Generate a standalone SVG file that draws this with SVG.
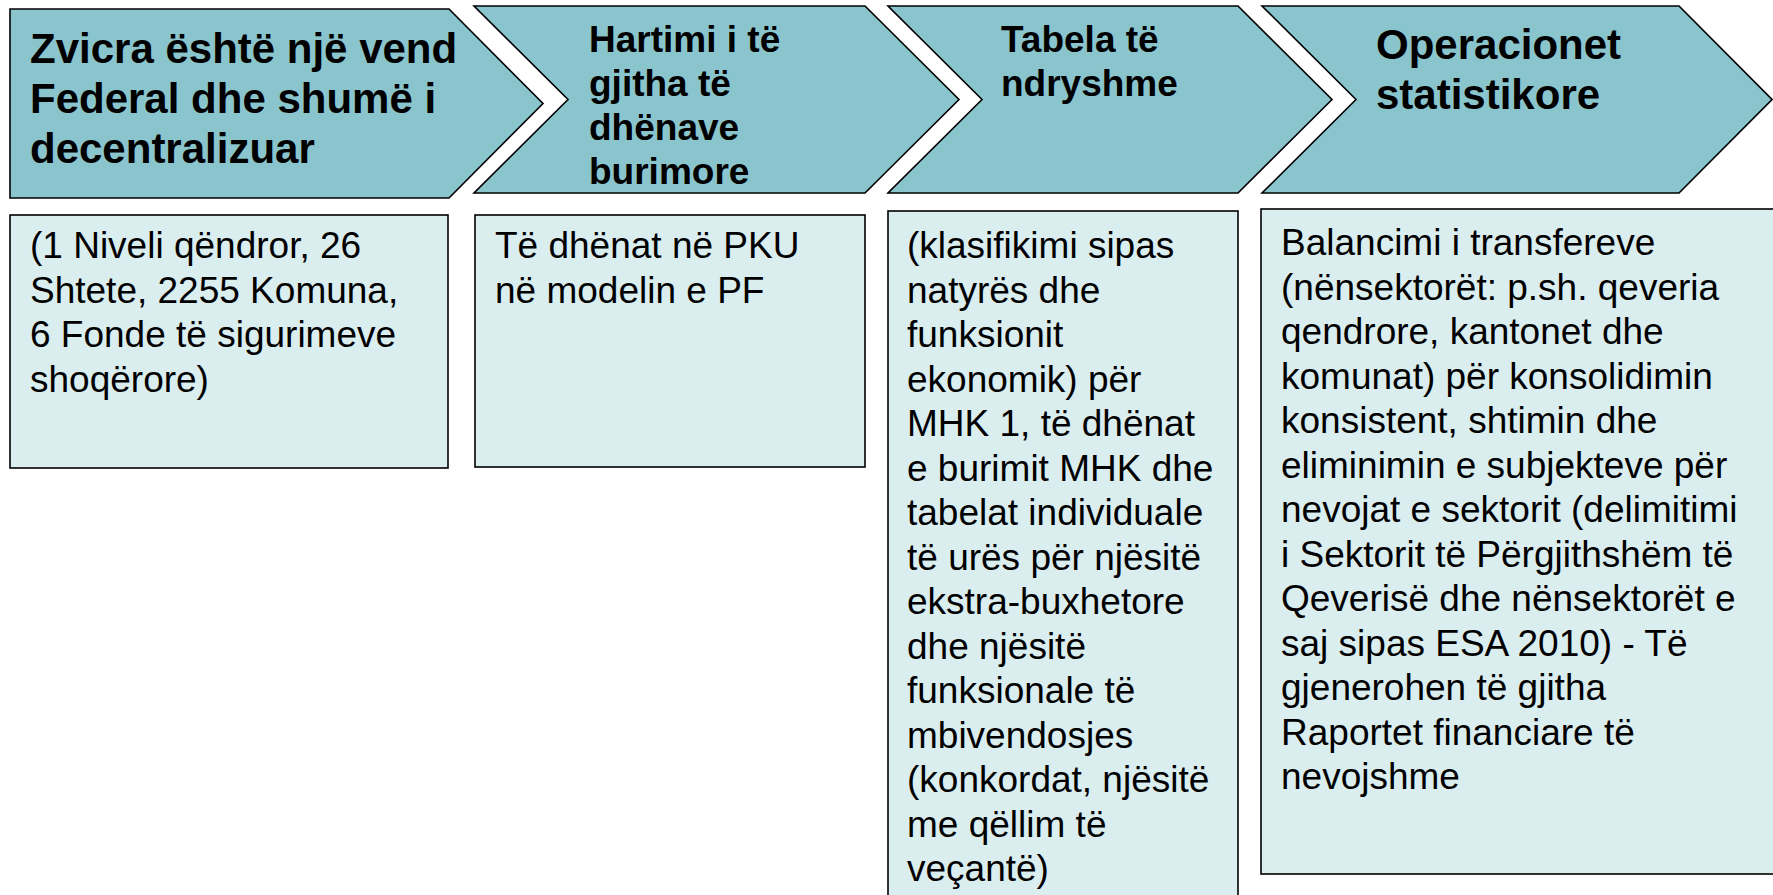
<svg xmlns="http://www.w3.org/2000/svg" width="1773" height="895" viewBox="0 0 1773 895">
<style>
.chev{fill:#8AC5CE;stroke:#000;stroke-width:1.6;stroke-linejoin:miter}
.box{fill:#DAEDEF;stroke:#000;stroke-width:1.6}
.t{font-family:"Liberation Sans",Arial,sans-serif;fill:#000}
.h1{font-size:42px;font-weight:bold}
.h2{font-size:37px;font-weight:bold}
.b{font-size:37px}
</style>
<rect width="1773" height="895" fill="#fff"/>
<g id="step1">
<polygon class="chev" points="10,9 449,9 543,103.5 449,198 10,198"/>
<text class="t h1"><tspan x="30" y="63">Zvicra është një vend</tspan><tspan x="30" y="113">Federal dhe shumë i</tspan><tspan x="30" y="163">decentralizuar</tspan></text>
</g>
<g id="step2">
<polygon class="chev" points="474,6 865,6 959,99.5 865,193 474,193 568,99.5"/>
<text class="t h2"><tspan x="589" y="52">Hartimi i të</tspan><tspan x="589" y="96">gjitha të</tspan><tspan x="589" y="140">dhënave</tspan><tspan x="589" y="184">burimore</tspan></text>
</g>
<g id="step3">
<polygon class="chev" points="888,6 1238,6 1332,99.5 1238,193 888,193 982,99.5"/>
<text class="t h2"><tspan x="1001" y="52">Tabela të</tspan><tspan x="1001" y="96">ndryshme</tspan></text>
</g>
<g id="step4">
<polygon class="chev" points="1262,6 1679,6 1772,99.5 1679,193 1262,193 1356,99.5"/>
<text class="t h1"><tspan x="1376" y="59">Operacionet</tspan><tspan x="1376" y="109">statistikore</tspan></text>
</g>
<g id="detail1">
<rect class="box" x="10" y="215" width="438" height="253"/>
<text class="t b"><tspan x="30" y="258">(1 Niveli qëndror, 26</tspan><tspan x="30" y="302.5">Shtete, 2255 Komuna,</tspan><tspan x="30" y="347">6 Fonde të sigurimeve</tspan><tspan x="30" y="391.5">shoqërore)</tspan></text>
</g>
<g id="detail2">
<rect class="box" x="475" y="215" width="390" height="252"/>
<text class="t b"><tspan x="495" y="258">Të dhënat në PKU</tspan><tspan x="495" y="302.5">në modelin e PF</tspan></text>
</g>
<g id="detail3">
<rect class="box" x="888" y="211" width="350" height="700"/>
<text class="t b"><tspan x="907" y="258">(klasifikimi sipas</tspan><tspan x="907" y="302.5">natyrës dhe</tspan><tspan x="907" y="347">funksionit</tspan><tspan x="907" y="391.5">ekonomik) për</tspan><tspan x="907" y="436">MHK 1, të dhënat</tspan><tspan x="907" y="480.5">e burimit MHK dhe</tspan><tspan x="907" y="525">tabelat individuale</tspan><tspan x="907" y="569.5">të urës për njësitë</tspan><tspan x="907" y="614">ekstra-buxhetore</tspan><tspan x="907" y="658.5">dhe njësitë</tspan><tspan x="907" y="703">funksionale të</tspan><tspan x="907" y="747.5">mbivendosjes</tspan><tspan x="907" y="792">(konkordat, njësitë</tspan><tspan x="907" y="836.5">me qëllim të</tspan><tspan x="907" y="881">veçantë)</tspan></text>
</g>
<g id="detail4">
<rect class="box" x="1261" y="209" width="530" height="665"/>
<text class="t b"><tspan x="1281" y="255">Balancimi i transfereve</tspan><tspan x="1281" y="299.5">(nënsektorët: p.sh. qeveria</tspan><tspan x="1281" y="344">qendrore, kantonet dhe</tspan><tspan x="1281" y="388.5">komunat) për konsolidimin</tspan><tspan x="1281" y="433">konsistent, shtimin dhe</tspan><tspan x="1281" y="477.5">eliminimin e subjekteve për</tspan><tspan x="1281" y="522">nevojat e sektorit (delimitimi</tspan><tspan x="1281" y="566.5">i Sektorit të Përgjithshëm të</tspan><tspan x="1281" y="611">Qeverisë dhe nënsektorët e</tspan><tspan x="1281" y="655.5">saj sipas ESA 2010) - Të</tspan><tspan x="1281" y="700">gjenerohen të gjitha</tspan><tspan x="1281" y="744.5">Raportet financiare të</tspan><tspan x="1281" y="789">nevojshme</tspan></text>
</g>
<g id="connectors"></g>
</svg>
